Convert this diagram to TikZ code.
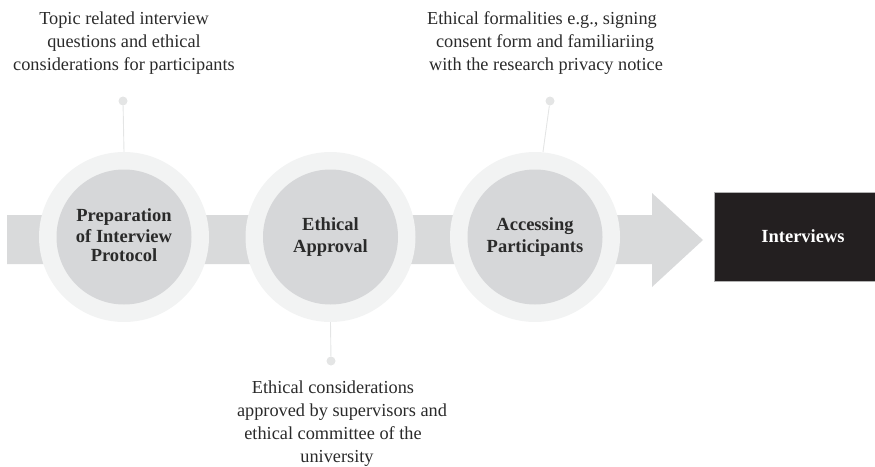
\documentclass[tikz,border=0pt]{standalone}
\usepackage{fontspec}
\setmainfont{Liberation Serif}
\definecolor{bandgrey}{HTML}{D9DADB}
\definecolor{ringgrey}{HTML}{F2F3F3}
\definecolor{innergrey}{HTML}{D6D7D9}
\definecolor{linegrey}{HTML}{E4E5E5}
\definecolor{txt}{HTML}{2A2A2A}
\definecolor{boxblack}{HTML}{231F20}
\tikzset{
  ring/.style={circle, fill=ringgrey, minimum size=170pt, inner sep=0pt},
  core/.style={circle, fill=innergrey, minimum size=135pt, inner sep=0pt, align=center,
    text=txt, font=\fontsize{18.5}{22}\selectfont\bfseries},
  note/.style={align=center, text=txt, font=\fontsize{18.3}{23}\selectfont, inner sep=0pt},
  conn/.style={draw=linegrey, line width=0.9pt},
  dotmark/.style={circle, fill=linegrey, minimum size=9pt, inner sep=0pt},
  finalbox/.style={fill=boxblack, draw=gray!60, line width=0.6pt, text=white,
    font=\fontsize{18.5}{22}\selectfont\bfseries, minimum width=162pt, minimum height=89pt}
}
\begin{document}
\begin{tikzpicture}[x=1pt,y=-1pt]
\useasboundingbox (0,0) rectangle (875,466);
% band with arrow head
\fill[bandgrey] (7,215) -- (652,215) -- (652,193) -- (703,240) -- (652,287) -- (652,264) -- (7,264) -- cycle;
% connectors and dots
\node[dotmark] (d1) at (123,101) {};
\node[dotmark] (d2) at (331,361) {};
\node[dotmark] (d3) at (550,101) {};
% rings
\node[ring] (r1) at (124,237) {};
\node[ring] (r2) at (330.5,237) {};
\node[ring] (r3) at (535,237) {};
\draw[conn] (r1.north) -- (d1);
\draw[conn] (r2.south) -- (d2);
\draw[conn] ([xshift=8pt]r3.north) -- (d3);
% cores
\node[core] (c1) at (124,237) {\raisebox{3pt}{\begin{tabular}{@{}c@{}}Preparation\\[-1pt] of Interview\\[-3pt] Protocol\end{tabular}}};
\node[core] (c2) at (330.5,237) {\raisebox{3pt}{\begin{tabular}{@{}c@{}}Ethical\\ Approval\end{tabular}}};
\node[core] (c3) at (535,237) {\raisebox{3pt}{\begin{tabular}{@{}c@{}}Accessing\\ Participants\end{tabular}}};
% final box
\node[finalbox] (iv) at (795,236.5) {\hspace*{16pt}Interviews};
% notes
\node[note] (n1) at (124,43) {Topic related interview\\ questions and ethical\\ considerations for participants};
\node[note] (n3) at (542,43) {Ethical formalities e.g., signing\\ \hspace*{6pt}consent form and familiariing\\ \hspace*{8pt}with the research privacy notice};
\node[note] (n2) at (333,424) {Ethical considerations\\ \hspace*{18pt}approved by supervisors and\\ ethical committee of the\\ \hspace*{8pt}university};
\end{tikzpicture}
\end{document}
